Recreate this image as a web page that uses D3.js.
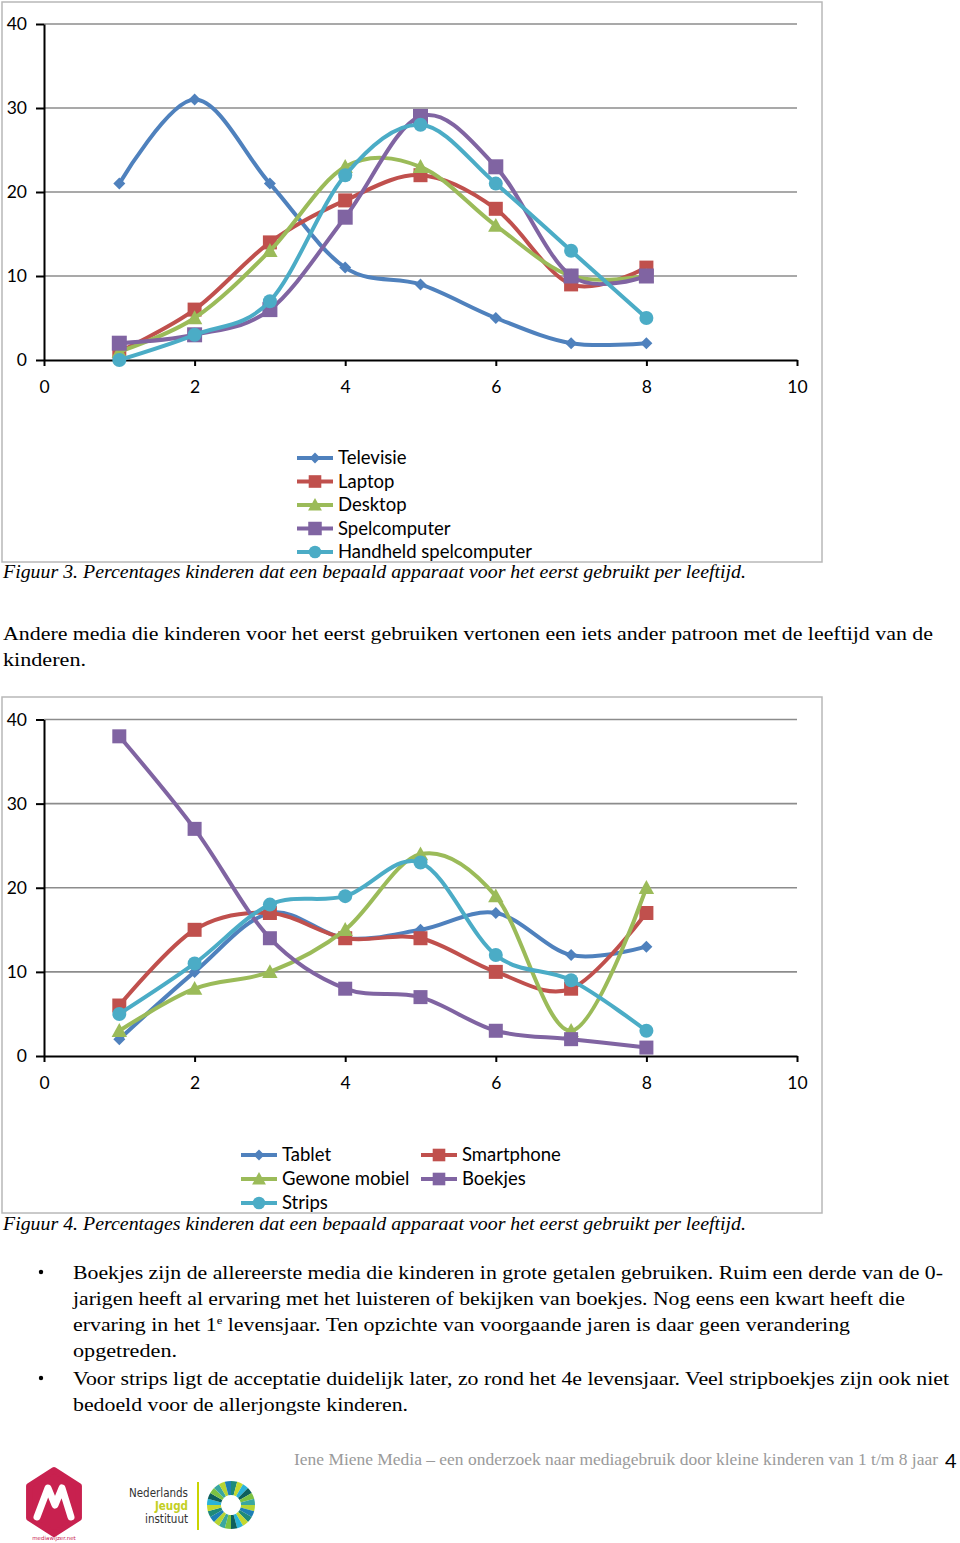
<!DOCTYPE html>
<html><head><meta charset="utf-8">
<script src="https://cdn.jsdelivr.net/npm/d3@7"></script>
<style>body{margin:0;background:#fff}svg{display:block}</style>
</head><body>
<svg id="page" width="960" height="1543"></svg>
<script>
// ---------- DATA ----------
const ages = [1, 2, 3, 4, 5, 6, 7, 8];
const xTicks = [0, 2, 4, 6, 8, 10];
const yTicks = [0, 10, 20, 30, 40];

const fig3Names = ["Televisie", "Laptop", "Desktop", "Spelcomputer", "Handheld spelcomputer"];
const televisie = [21, 31, 21, 11, 9, 5, 2, 2];
const laptop = [1, 6, 14, 19, 22, 18, 9, 11];
const desktop = [1, 5, 13, 23, 23, 16, 10, 10];
const spelcomputer = [2, 3, 6, 17, 29, 23, 10, 10];
const handheld = [0, 3, 7, 22, 28, 21, 13, 5];

const fig4Names = ["Tablet", "Smartphone", "Gewone mobiel", "Boekjes", "Strips"];
const tablet = [2, 10, 17, 14, 15, 17, 12, 13];
const smartphone = [6, 15, 17, 14, 14, 10, 8, 17];
const gewoneMobiel = [3, 8, 10, 15, 24, 19, 3, 20];
const boekjes = [38, 27, 14, 8, 7, 3, 2, 1];
const strips = [5, 11, 18, 19, 23, 12, 9, 3];

const caption3 = "Figuur 3. Percentages kinderen dat een bepaald apparaat voor het eerst gebruikt per leeftijd.";
const caption4 = "Figuur 4. Percentages kinderen dat een bepaald apparaat voor het eerst gebruikt per leeftijd.";
const paragraph = ["Andere media die kinderen voor het eerst gebruiken vertonen een iets ander patroon met de leeftijd van de", "kinderen."];
const bullet1 = ["Boekjes zijn de allereerste media die kinderen in grote getalen gebruiken. Ruim een derde van de 0-",
  "jarigen heeft al ervaring met het luisteren of bekijken van boekjes. Nog eens een kwart heeft die",
  ["ervaring in het 1", "e", " levensjaar. Ten opzichte van voorgaande jaren is daar geen verandering"],
  "opgetreden."];
const bullet2 = ["Voor strips ligt de acceptatie duidelijk later, zo rond het 4e levensjaar. Veel stripboekjes zijn ook niet",
  "bedoeld voor de allerjongste kinderen."];
const footerText = "Iene Miene Media \u2013 een onderzoek naar mediagebruik door kleine kinderen van 1 t/m 8 jaar";
const pageNumber = "4";

// ---------- STYLE ----------
const COLORS = ["#4F81BD", "#C0504D", "#9BBB59", "#8064A2", "#4BACC6"];
const SHAPES = ["diamond", "square", "triangle", "square", "circle"];
const CHART_FONT = "Lato, 'Open Sans', sans-serif";
const SERIF = "'Liberation Serif', 'DejaVu Serif', serif";

const svg = d3.select("#page");

function marker(g, shape, cx, cy, color, size) {
  if (shape === "diamond") {
    const s = size * 0.5;
    g.append("path").attr("d", `M${cx},${cy - s}L${cx + s},${cy}L${cx},${cy + s}L${cx - s},${cy}Z`).attr("fill", color);
  } else if (shape === "square") {
    const s = size * 0.5;
    g.append("rect").attr("x", cx - s).attr("y", cy - s).attr("width", size).attr("height", size).attr("fill", color);
  } else if (shape === "triangle") {
    const s = size * 0.55;
    g.append("path").attr("d", `M${cx},${cy - s}L${cx + s},${cy + s * 0.8}L${cx - s},${cy + s * 0.8}Z`).attr("fill", color);
  } else {
    g.append("circle").attr("cx", cx).attr("cy", cy).attr("r", size * 0.5).attr("fill", color);
  }
}

function drawChart(cfg) {
  const g = svg.append("g");
  g.append("rect").attr("x", cfg.box[0]).attr("y", cfg.box[1]).attr("width", cfg.box[2]).attr("height", cfg.box[3])
    .attr("fill", "#fff").attr("stroke", "#b8b8b8").attr("stroke-width", 1.5);

  const x = d3.scaleLinear().domain([0, 10]).range([cfg.left, cfg.right]);
  const y = d3.scaleLinear().domain([0, 40]).range([cfg.bottom, cfg.top]);

  // gridlines
  g.append("g").selectAll("line").data(yTicks.filter(d => d > 0)).join("line")
    .attr("x1", cfg.left).attr("x2", cfg.right).attr("y1", d => y(d)).attr("y2", d => y(d))
    .attr("stroke", "#8c8c8c").attr("stroke-width", 1.6);

  // y axis
  const ya = g.append("g").attr("transform", `translate(${cfg.left},0)`)
    .call(d3.axisLeft(y).tickValues(yTicks).tickSize(8).tickPadding(10).tickSizeOuter(0));
  ya.select(".domain").attr("stroke", "#000").attr("stroke-width", 2);
  ya.selectAll(".tick line").attr("stroke", "#000").attr("stroke-width", 2);
  ya.selectAll(".tick text").attr("font-family", CHART_FONT).attr("font-size", 17.5).attr("fill", "#000")
    .attr("x", -17).attr("text-anchor", "end");

  // x axis
  const xa = g.append("g").attr("transform", `translate(0,${cfg.bottom})`)
    .call(d3.axisBottom(x).tickValues(xTicks).tickSize(6).tickPadding(10).tickSizeOuter(0));
  xa.select(".domain").attr("stroke", "#000").attr("stroke-width", 2);
  xa.selectAll(".tick line").attr("stroke", "#000").attr("stroke-width", 2);
  xa.selectAll(".tick text").attr("font-family", CHART_FONT).attr("font-size", 17.5).attr("fill", "#000").attr("y", 21);

  const line = d3.line().x((d, i) => x(ages[i])).y(d => y(d)).curve(d3.curveCardinal.tension(0));

  cfg.series.forEach((vals, si) => {
    g.append("path").attr("d", line(vals)).attr("fill", "none").attr("stroke", COLORS[si])
      .attr("stroke-width", 4).attr("stroke-linejoin", "round").attr("stroke-linecap", "round");
    const mg = g.append("g");
    vals.forEach((v, i) => marker(mg, SHAPES[si], x(ages[i]), y(v), COLORS[si], cfg.sizes[si]));
  });

  // legend
  cfg.names.forEach((name, si) => {
    const [lx, ly] = cfg.legendPos[si];
    g.append("line").attr("x1", lx).attr("x2", lx + 36).attr("y1", ly).attr("y2", ly)
      .attr("stroke", COLORS[si]).attr("stroke-width", 4);
    const mg = g.append("g");
    marker(mg, SHAPES[si], lx + 18, ly, COLORS[si], cfg.sizes[si] * 0.9);
    g.append("text").attr("x", lx + 41).attr("y", ly).attr("dy", "0.35em")
      .attr("font-family", CHART_FONT).attr("font-size", 18.5).attr("fill", "#000").text(name);
  });
}

drawChart({
  box: [2, 2, 820, 560], left: 44, right: 797, top: 24, bottom: 360,
  series: [televisie, laptop, desktop, spelcomputer, handheld],
  names: fig3Names,
  sizes: [12, 14, 14, 15, 14],
  legendPos: [[297, 458], [297, 481.5], [297, 505], [297, 528.5], [297, 552]]
});

drawChart({
  box: [2, 697, 820, 516], left: 44, right: 797, top: 719.5, bottom: 1056,
  series: [tablet, smartphone, gewoneMobiel, boekjes, strips],
  names: fig4Names,
  sizes: [12, 14, 14, 14, 14],
  legendPos: [[241, 1155], [421, 1155], [241, 1179], [421, 1179], [241, 1203]]
});

// ---------- TEXT ----------
function textLine(x, y, content, width, opts = {}) {
  const t = svg.append("text").attr("x", x).attr("y", y)
    .attr("font-family", SERIF).attr("font-size", opts.size || 19)
    .attr("fill", opts.color || "#000")
    .attr("font-style", opts.italic ? "italic" : null);
  if (Array.isArray(content)) {
    t.append("tspan").text(content[0]);
    t.append("tspan").attr("dy", -7).attr("font-size", 11).text(content[1]);
    t.append("tspan").attr("dy", 7).text(content[2]);
  } else {
    t.text(content);
  }
  if (width) t.attr("textLength", width).attr("lengthAdjust", "spacingAndGlyphs");
  return t;
}

textLine(3, 578, caption3, 743, { italic: true, size: 18 });
textLine(3, 1230, caption4, 743, { italic: true, size: 18 });

textLine(3, 640, paragraph[0], 930);
textLine(3, 666, paragraph[1], 83);

const b1w = [870, 832, 777, 104];
bullet1.forEach((l, i) => textLine(73, 1279 + i * 26, l, b1w[i]));
const b2w = [876, 335];
bullet2.forEach((l, i) => textLine(73, 1385 + i * 26, l, b2w[i]));
[1272, 1378].forEach(yy => svg.append("circle").attr("cx", 41).attr("cy", yy).attr("r", 2.2).attr("fill", "#000"));

textLine(294, 1465, footerText, 644, { size: 16, color: "#9a9a9a" });
svg.append("text").attr("x", 945).attr("y", 1468).attr("font-family", CHART_FONT).attr("font-size", 20)
  .attr("fill", "#000").text(pageNumber);

// ---------- LOGOS ----------
const lg = svg.append("g");
const hx = 54, hy = 1502, hr = 32;
const hex = d3.range(6).map(k => {
  const a = Math.PI / 3 * k - Math.PI / 2;
  return [hx + hr * Math.cos(a) * 0.9, hy + hr * Math.sin(a)];
});
lg.append("path").attr("d", d3.line().curve(d3.curveLinearClosed)(hex)).attr("fill", "#c8214f")
  .attr("stroke", "#c8214f").attr("stroke-width", 6).attr("stroke-linejoin", "round");
lg.append("path").attr("d", `M${hx - 17},${hy + 15} L${hx - 6},${hy - 14} L${hx + 1},${hy + 3} L${hx + 8},${hy - 14} L${hx + 17},${hy + 15}`)
  .attr("fill", "none").attr("stroke", "#fff").attr("stroke-width", 7).attr("stroke-linejoin", "round").attr("stroke-linecap", "round");
lg.append("text").attr("x", hx).attr("y", 1540).attr("text-anchor", "middle").attr("font-family", "'DejaVu Sans'")
  .attr("font-size", 5.5).attr("fill", "#c8214f").text("mediawijzer.net");

const njx = 188;
[["Nederlands", "#333", 1497], ["Jeugd", "#c3cf24", 1510], ["instituut", "#333", 1523]].forEach(([t, c, yy]) => {
  lg.append("text").attr("x", njx).attr("y", yy).attr("text-anchor", "end")
    .attr("font-family", "'DejaVu Sans Condensed', 'DejaVu Sans'").attr("font-size", 11.5)
    .attr("font-weight", t === "Jeugd" ? "bold" : null).attr("fill", c).text(t);
});
lg.append("line").attr("x1", 198).attr("x2", 198).attr("y1", 1482).attr("y2", 1530).attr("stroke", "#c9d400").attr("stroke-width", 2);
const ringColors = ["#1e8a7a", "#c5d82e", "#2bb3d8", "#0e5f5c", "#7cc242", "#3aa7a0", "#b7d433", "#1c7fb5"];
const segs = d3.pie().value(1)(d3.range(24));
const arc = d3.arc().innerRadius(10).outerRadius(24);
lg.append("g").attr("transform", "translate(231,1505)").selectAll("path").data(segs).join("path")
  .attr("d", arc).attr("fill", (d, i) => ringColors[i % ringColors.length]);
</script>
</body></html>
